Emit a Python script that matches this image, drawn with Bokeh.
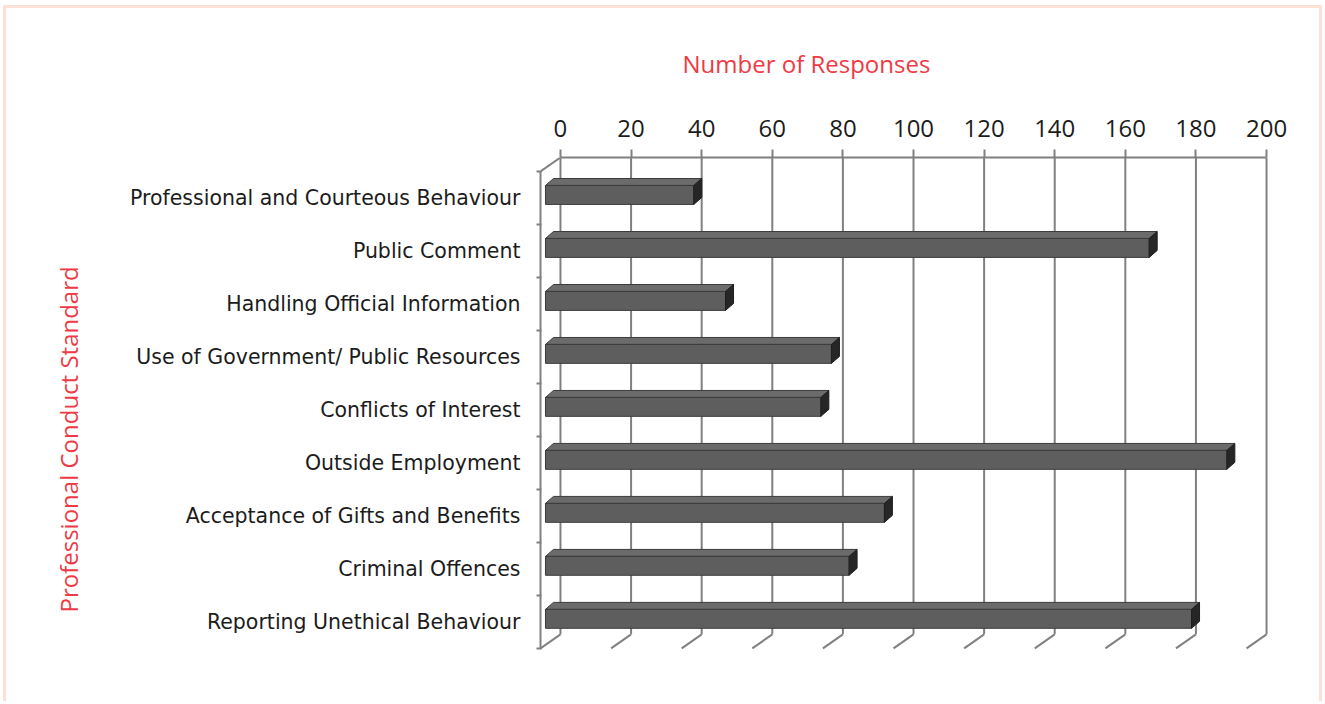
from bokeh.plotting import figure
from bokeh.models import Range1d, LinearAxis, FixedTicker, Title
from bokeh.embed import file_html
from bokeh.resources import INLINE

# ---- data ----
categories = [
    "Professional and Courteous Behaviour",
    "Public Comment",
    "Handling Official Information",
    "Use of Government/ Public Resources",
    "Conflicts of Interest",
    "Outside Employment",
    "Acceptance of Gifts and Benefits",
    "Criminal Offences",
    "Reporting Unethical Behaviour",
]
responses = [42, 171, 51, 81, 78, 193, 96, 86, 183]
value_ticks = [0, 20, 40, 60, 80, 100, 120, 140, 160, 180, 200]
x_title = "Number of Responses"
y_title = "Professional Conduct Standard"

# ---- layout / style ----
OX, OY = 6, 8            # canvas origin on the page (margin + border)
W, H = 1313, 693         # element content size
CW, CH = W + 6, H + 3    # canvas size as laid out (includes border widths)
PX_X = 3.535   # px per response
PX_Y = 53.2    # px per category band
def ux(px): return px / PX_X
def uy(px): return px / PX_Y

FRONT_DX, D = ux(-20), uy(14)          # depth offset of front plane vs back wall
BARF_DX, BARF_DY = ux(-15), uy(11)     # bar front face offset
BARB_DX, BARB_DY = ux(-7), uy(4)       # bar back face offset
BAR_H = uy(19)

GRID = "#808080"
RED = "#ee3a45"
TXT = "#1c1c1c"
BORDER = "3px solid #fde0d6"
n = len(categories)

FRAME_L, FRAME_R, FRAME_T, FRAME_B = 539, 1300, 155, 652   # page px

p = figure(width=W, height=H,
           x_range=Range1d(FRONT_DX, ux(FRAME_R - 559)),
           y_range=Range1d(uy(FRAME_B - 169), -D),
           output_backend="svg", toolbar_location=None,
           x_axis_location=None, y_axis_location=None,
           min_border_left=FRAME_L - OX, min_border_right=CW - (FRAME_R - OX),
           min_border_top=FRAME_T - OY, min_border_bottom=CH - (FRAME_B - OY),
           styles={"box-sizing": "content-box",
                   "border-left": BORDER, "border-top": BORDER, "border-right": BORDER,
                   "margin-left": "3px", "margin-top": "5px"})
p.outline_line_color = None
p.grid.visible = False
p.background_fill_color = "white"
p.border_fill_color = "white"

# top value axis (back wall top edge)
top = LinearAxis(ticker=FixedTicker(ticks=value_ticks), bounds=(value_ticks[0], value_ticks[-1]),
                 axis_line_color=GRID, axis_line_width=2,
                 major_tick_line_color=GRID, major_tick_line_width=2,
                 major_tick_out=8, major_tick_in=0, minor_tick_line_color=None,
                 major_label_text_font="Open Sans", major_label_text_font_size="24px",
                 major_label_text_color=TXT, major_label_standoff=13)
p.add_layout(top, "above")

# left category axis (front plane)
centers = [k + 0.5 for k in range(n)]
bounds_ = [float(k) for k in range(n + 1)]
left = LinearAxis(ticker=FixedTicker(ticks=centers, minor_ticks=bounds_), bounds=(0, n),
                  major_label_overrides={c: name for c, name in zip(centers, categories)},
                  axis_line_color=GRID, axis_line_width=2,
                  major_tick_line_color=None, major_tick_out=0, major_tick_in=0,
                  minor_tick_line_color=GRID, minor_tick_line_width=2,
                  minor_tick_out=4, minor_tick_in=1,
                  major_label_text_font="DejaVu Sans", major_label_text_font_size="20.5px",
                  major_label_text_color=TXT, major_label_standoff=16)
p.add_layout(left, "left")

# titles
p.add_layout(Title(text=x_title, align="left", offset=681 - FRAME_L, standoff=73,
                   text_font="Open Sans", text_font_size="24px", text_font_style="normal",
                   text_color=RED), "above")
p.add_layout(Title(text=y_title, align="left", offset=FRAME_B - 612, standoff=86,
                   text_font="Open Sans", text_font_size="24px", text_font_style="normal",
                   text_color=RED), "left")

# back wall gridlines
p.segment(x0=value_ticks, y0=[-D] * len(value_ticks), x1=value_ticks, y1=[n - D] * len(value_ticks),
          line_color=GRID, line_width=2)
# floor diagonals
p.segment(x0=value_ticks, y0=[n - D] * len(value_ticks),
          x1=[t + FRONT_DX for t in value_ticks], y1=[n] * len(value_ticks),
          line_color=GRID, line_width=2)
# side wall top diagonal
p.segment(x0=[value_ticks[0]], y0=[-D], x1=[value_ticks[0] + FRONT_DX], y1=[0],
          line_color=GRID, line_width=2)

# 3D bars
fx, fy, tx, ty, sx, sy = [], [], [], [], [], []
for k, v in enumerate(responses):
    yc = k + 0.5 - D
    ft, fb = yc + BARF_DY - BAR_H / 2, yc + BARF_DY + BAR_H / 2
    bt, bb = yc + BARB_DY - BAR_H / 2, yc + BARB_DY + BAR_H / 2
    xf0, xf1 = BARF_DX, v + BARF_DX
    xb0, xb1 = BARB_DX, v + BARB_DX
    fx.append([xf0, xf1, xf1, xf0]); fy.append([ft, ft, fb, fb])
    tx.append([xf0, xb0, xb1, xf1]); ty.append([ft, bt, bt, ft])
    sx.append([xf1, xb1, xb1, xf1]); sy.append([ft, bt, bb, fb])

p.patches(tx, ty, fill_color="#6b6b6b", line_color="#3c3c3c", line_width=1)
p.patches(fx, fy, fill_color="#5e5e5e", line_color="#3c3c3c", line_width=1)
p.patches(sx, sy, fill_color="#262626", line_color="#1e1e1e", line_width=1)

open("out.html", "w").write(file_html(p, INLINE))
